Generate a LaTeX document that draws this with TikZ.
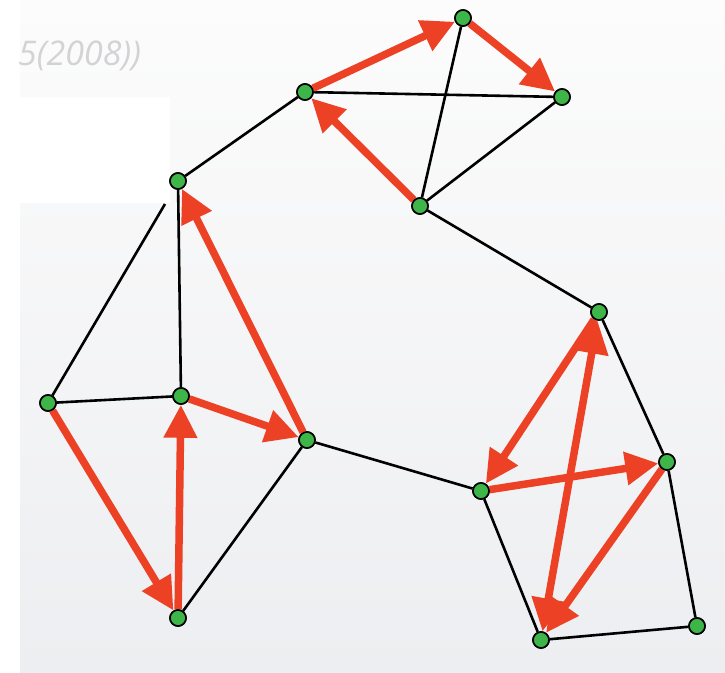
\documentclass[tikz,border=0pt]{standalone}
\usepackage{fontspec}
\newfontfamily\capfont{Open Sans}
\usetikzlibrary{arrows.meta}
\definecolor{nodegreen}{HTML}{3DB549}
\definecolor{arrred}{HTML}{EC4125}
\definecolor{bgbot}{HTML}{EDEEF1}
\definecolor{bgtop}{HTML}{FCFCFC}
\definecolor{capgray}{HTML}{D3D3D5}
\begin{document}
\begin{tikzpicture}[x=1pt,y=-1pt,
  vtx/.style={circle,fill=nodegreen,draw=black,line width=1.6pt,minimum size=16pt,inner sep=0pt},
  edge/.style={draw=black,line width=2.6pt},
  redarr/.style={draw=arrred,line width=7.5pt,-{Triangle[length=33pt,width=32pt]}},
  redboth/.style={draw=arrred,line width=7.5pt,{Triangle[length=33pt,width=32pt]}-{Triangle[length=33pt,width=32pt]}}]
\useasboundingbox (0,0) rectangle (725,672);
% background
\fill[white] (0,0) rectangle (725,672);
\shade[top color=bgtop,bottom color=bgbot] (20,0) rectangle (725,672);
\fill[white] (20,97) rectangle (170,203);
\node[font=\capfont\itshape\fontsize{34}{38}\selectfont,text=capgray,anchor=west,inner sep=0pt] (cap) at (18,56) {5(2008))};
% vertices
\node[vtx] (A) at (463,18) {};
\node[vtx] (B) at (562,97) {};
\node[vtx] (C) at (305,92) {};
\node[vtx] (D) at (420,206) {};
\node[vtx] (E) at (178,181) {};
\node[vtx] (F) at (48,403) {};
\node[vtx] (G) at (181,396) {};
\node[vtx] (H) at (307,440) {};
\node[vtx] (I) at (178,618) {};
\node[vtx] (J) at (599,312) {};
\node[vtx] (K) at (481,491) {};
\node[vtx] (L) at (667,462) {};
\node[vtx] (M) at (541,640) {};
\node[vtx] (N) at (697,626) {};
\coordinate (Fcut) at (165,204);
% black edges
\draw[edge] (C) -- (B);
\draw[edge] (A) -- (D);
\draw[edge] (D) -- (B);
\draw[edge] (D) -- (J);
\draw[edge] (C) -- (E);
\draw[edge] (F) -- (Fcut);
\draw[edge] (E) -- (G);
\draw[edge] (F) -- (G);
\draw[edge] (H) -- (I);
\draw[edge] (H) -- (K);
\draw[edge] (K) -- (M);
\draw[edge] (M) -- (N);
\draw[edge] (N) -- (L);
\draw[edge] (L) -- (J);
% red arrows
\draw[redarr] (C) -- (A);
\draw[redarr] (A) -- (B);
\draw[redarr] (D) -- (C);
\draw[redarr] (H) -- (E);
\draw[redarr] (G) -- (H);
\draw[redarr] (F) -- (I);
\draw[redarr] (I) -- (G);
\draw[redarr] (J) -- (K);
\draw[redarr] (K) -- (L);
\draw[redarr] (L) -- (M);
\draw[redboth] (M) -- (J);
% redraw vertices on top
\foreach \v in {A,B,C,D,E,F,G,H,I,J,K,L,M,N}
  \path (\v) node[vtx] {};
\end{tikzpicture}
\end{document}
